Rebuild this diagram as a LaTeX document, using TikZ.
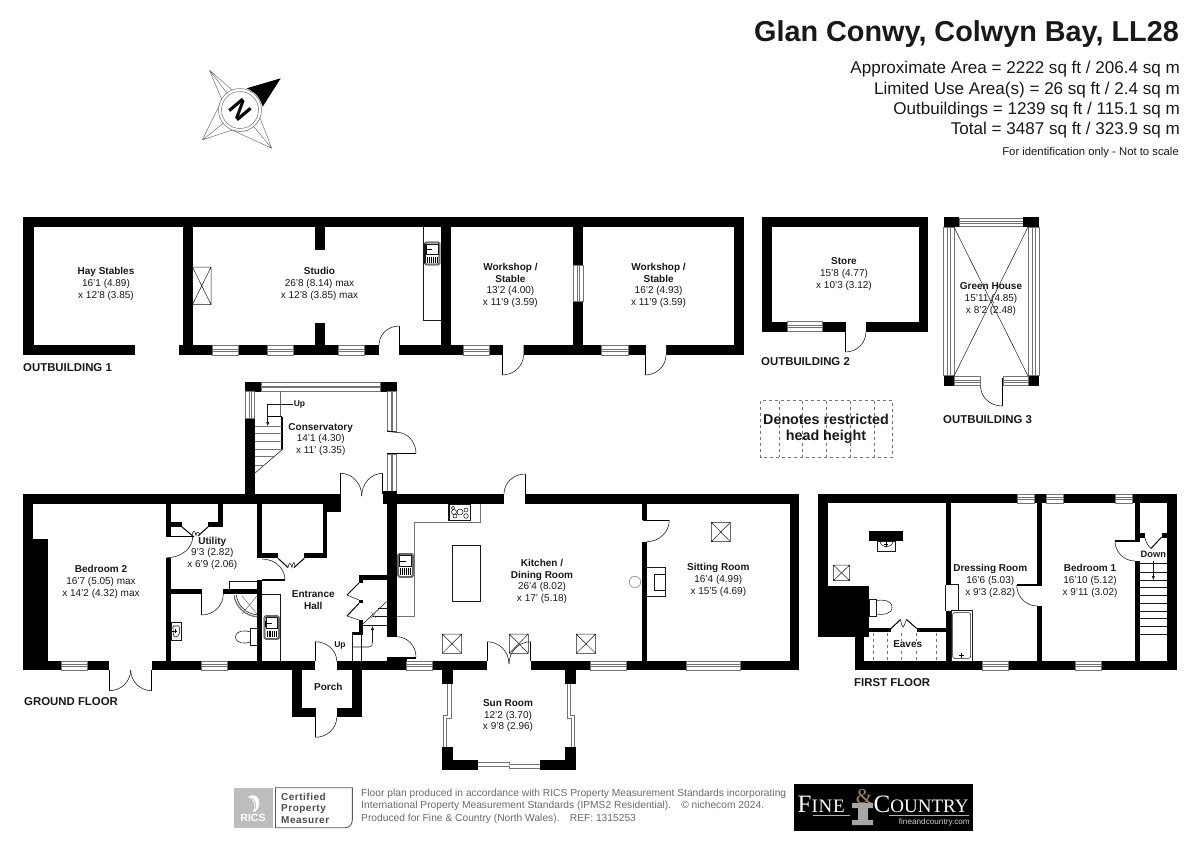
\documentclass[tikz,border=0pt]{standalone}
\usepackage{fontspec}
\setmainfont{Liberation Sans}
\newfontfamily\logoserif{Liberation Serif}
\usetikzlibrary{calc,arrows.meta}
\definecolor{ink}{gray}{0.1}
\definecolor{wgrey}{gray}{0.45}
\tikzset{
  x=1pt,y=-1pt,
  room/.style={align=center,inner sep=0pt,font=\fontsize{10}{11.7}\selectfont,text=ink},
  lab/.style={anchor=west,inner sep=0pt,font=\fontsize{11.4}{13}\selectfont\bfseries,text=ink},
  thin1/.style={draw=ink,line width=0.55pt},
  grey1/.style={draw=wgrey,line width=0.5pt},
  leaf/.style={draw=black,line width=1pt},
  info/.style={anchor=east,inner sep=0pt,font=\fontsize{17.05}{20}\selectfont,text=ink},
}
\newcommand\W[4]{\fill[black] (#1,#2) rectangle (#3,#4);}
% horizontal window
\newcommand\WH[4]{\fill[white] (#1,#2) rectangle (#3,#4);
 \draw[grey1] (#1,#2) rectangle (#3,#4);
 \draw[grey1] (#1,{#2+0.4*(#4-#2)}) -- (#3,{#2+0.4*(#4-#2)}) (#1,{#2+0.6*(#4-#2)}) -- (#3,{#2+0.6*(#4-#2)});}
% vertical window
\newcommand\WV[4]{\fill[white] (#1,#2) rectangle (#3,#4);
 \draw[grey1] (#1,#2) rectangle (#3,#4);
 \draw[grey1] ({#1+0.4*(#3-#1)},#2) -- ({#1+0.4*(#3-#1)},#4) ({#1+0.6*(#3-#1)},#2) -- ({#1+0.6*(#3-#1)},#4);}
% door arc p1, corner, p2
\newcommand\Q[6]{\draw[thin1] (#1,#2) .. controls ($(#1,#2)!.552!(#3,#4)$) and ($(#5,#6)!.552!(#3,#4)$) .. (#5,#6);}
% skylight
\newcommand\SK[4]{\draw[grey1,draw=ink] (#1,#2) rectangle (#3,#4) (#1,#2) -- (#3,#4) (#1,#4) -- (#3,#2);}
% sink
\newcommand\SINK[4]{\draw[thin1,rounded corners=1.5pt] (#1,#2) rectangle (#3,#4);
 \draw[thin1,rounded corners=1pt] ({#1+1},{#2+1}) rectangle ({#3-1},{#4-1});
 \draw[thin1] ({#1+2},{#2+2}) rectangle ({#3-2},{(#2+#4)/2+1});
 \foreach \k in {0,...,5}{\draw[black,line width=0.5pt] ({#1+3+\k*(#3-#1-6)/5},{(#2+#4)/2+3}) -- ({#1+3+\k*(#3-#1-6)/5},{#4-2.5});}
 \draw[black,line width=0.8pt] ({#1+1.5},{(#2+#4)/2-4}) -- ({(#1+#3)/2},{(#2+#4)/2-4}) ({#1+1.5},{(#2+#4)/2-7}) -- ({#1+1.5},{(#2+#4)/2-1});}
\begin{document}
\begin{tikzpicture}
\useasboundingbox (0,0) rectangle (1200,849);
\fill[white] (0,0) rectangle (1200,849);
%---------- header
\node[anchor=east,inner sep=0pt,font=\fontsize{28.8}{32}\selectfont\bfseries,text=ink] (title) at (1179,34.5) {Glan Conwy, Colwyn Bay, LL28};
\node[info] (i1) at (1180,69.5) {Approximate Area = 2222 sq ft / 206.4 sq m};
\node[info] (i2) at (1180,90) {Limited Use Area(s) = 26 sq ft / 2.4 sq m};
\node[info] (i3) at (1180,110.5) {Outbuildings = 1239 sq ft / 115.1 sq m};
\node[info] (i4) at (1180,130.5) {Total = 3487 sq ft / 323.9 sq m};
\node[anchor=east,inner sep=0pt,font=\fontsize{11.3}{13}\selectfont,text=ink] (i5) at (1179,153) {For identification only - Not to scale};
%---------- compass
\draw[wgrey,line width=0.5pt] (209.3,70) -- (232,90) -- (258,92) (209.3,70) -- (222,100) -- (220,118)
 (202.3,140) -- (222,100) (202.3,140) -- (240,110) (202.3,140) -- (232,130) -- (248,131)
 (271.7,148.3) -- (232,130) (271.7,148.3) -- (260,118) -- (258,110) (209.3,70) -- (240,110) (271.7,148.3) -- (240,110);
\fill[white] (240,110) circle (21);
\draw[wgrey,line width=0.5pt] (240,110) circle (21.5) (240,110) circle (18.5);
\fill[black] (246.7,88.3) -- (280.7,78.3) -- (262.7,106.7) .. controls (260,97) and (255,92) .. cycle;
\node[rotate=-50,font=\fontsize{26}{26}\selectfont\bfseries,inner sep=0pt] (north) at (240,110) {N};
%---------- outbuilding 1
\W{23.3}{217}{743.5}{227}
\W{23.3}{217}{33.5}{355}
\W{23.3}{345}{135}{355}
\W{182.5}{217}{192.5}{355}
\W{179}{345}{379}{355}
\W{315}{227}{325}{250}
\W{315}{323}{325}{345}
\W{399.5}{345}{743.5}{355}
\W{441}{217}{451}{355}
\W{573}{217}{583}{355}
\W{734}{217}{743.5}{355}
\WH{212}{345}{238}{355}\WH{267}{345}{293.5}{355}\WH{338}{345}{364}{355}
\WH{463.5}{345}{489.6}{355}\WH{601.4}{345}{628}{355}
\WV{573}{265}{583}{301}
\fill[white] (502,345) rectangle (523.5,355) (645,345) rectangle (666,355);
\draw[leaf] (399,326) -- (399,355) (502,345) -- (502,375) (645,345) -- (645,375);
\Q{399}{326}{379}{326}{379}{345}
\Q{502}{375}{523.5}{375}{523.5}{355}
\Q{645}{375}{666}{375}{666}{355}
\SK{192.5}{267}{211}{304.5}
\draw[thin1] (423,227) -- (423,320) -- (441,320);
\SINK{424.5}{242}{440}{265}
\node[room] (hay) at (106,284) {\textbf{Hay Stables}\\16'1 (4.89)\\x 12'8 (3.85)};
\node[room] (studio) at (319.5,284) {\textbf{Studio}\\26'8 (8.14) max\\x 12'8 (3.85) max};
\node[room] (ws1) at (510.4,285.5) {\textbf{Workshop /}\\\textbf{Stable}\\13'2 (4.00)\\x 11'9 (3.59)};
\node[room] (ws2) at (658.6,285.5) {\textbf{Workshop /}\\\textbf{Stable}\\16'2 (4.93)\\x 11'9 (3.59)};
\node[lab] (ob1) at (23,367.5) {OUTBUILDING 1};
%---------- outbuilding 2
\W{762}{217}{928.4}{227}\W{762}{217}{772}{331.7}\W{918.6}{217}{928.4}{331.7}\W{762}{321.7}{845.5}{331.7}\W{866}{321.7}{928.4}{331.7}
\WH{787.5}{321.7}{822.6}{331.7}
\draw[leaf] (845.5,321.7) -- (845.5,352);
\Q{845.5}{352}{866}{352}{866}{331.7}
\node[room] (store) at (844,274) {\textbf{Store}\\15'8 (4.77)\\x 10'3 (3.12)};
\node[lab] (ob2) at (761,361.5) {OUTBUILDING 2};
%---------- outbuilding 3
\WH{959.4}{218}{1023}{226.5}
\WV{943.5}{227}{954}{375.7}\WV{1028.5}{227}{1039}{375.7}
\W{943.5}{217.3}{959.4}{227}\W{1023}{217.3}{1039}{227}
\W{943.5}{375.7}{954.5}{386}\W{1028}{375.7}{1039}{386}
\WH{954.5}{376.5}{980}{385.5}\WH{1003.5}{376.5}{1028}{385.5}
\draw[grey1,draw=ink] (954,227) -- (1028,376) (1028,227) -- (954,376);
\draw[leaf] (1002,378) -- (1002,406);
\Q{1002}{406}{980.5}{406}{980.5}{386}
\node[room] (green) at (991,299) {\textbf{Green House}\\15'11 (4.85)\\x 8'2 (2.48)};
\node[lab] (ob3) at (943,419.5) {OUTBUILDING 3};
%---------- restricted key
\draw[wgrey,dashed,line width=0.5pt] (760.6,400.7) rectangle (892.5,457.3);
\foreach \xx in {779,802.7,826.7,850.4,874}{\draw[wgrey,dashed,line width=0.5pt] (\xx,400.7) -- (\xx,457.3);}
\node[align=center,inner sep=0pt,font=\fontsize{14.3}{16}\selectfont\bfseries,text=ink] (key) at (826,429) {Denotes restricted\\head height};
%---------- conservatory
\W{245}{418}{255}{494}
\W{245}{381.7}{261}{391.7}\W{380}{381.7}{396.7}{391.7}
\WH{261}{382.5}{380}{391}
\WV{245.5}{391.7}{254.5}{418}
\WV{387}{391.7}{396.5}{431}
\WV{387}{454}{396.5}{491}
\W{382.7}{490.5}{396.7}{494}
\draw[leaf] (387,431) -- (396.7,432.3);
\draw[leaf,line width=1.4pt] (387,453.3) -- (416,453.3);
\Q{416}{453.3}{416}{432.3}{396.7}{432.3}
\draw[leaf] (340.7,473.3) -- (340.7,494) (382.7,473.3) -- (382.7,494);
\Q{340.7}{473.3}{361.7}{473.3}{361.7}{496}
\Q{382.7}{473.3}{361.7}{473.3}{361.7}{496}
\draw[black,line width=2pt] (282,416.7) -- (282,449);
\draw[black,line width=1pt] (267.7,416.7) -- (282,416.7);
\draw[thin1] (280.7,391.7) -- (280.7,416.7) (283,449) -- (255,473);
\foreach \yy/\xe in {426/282,433.3/282,441/282,449/282,456.5/274,465.5/264}{\draw[thin1,draw=wgrey] (255,\yy) -- (\xe,\yy);}
\draw[thin1,-{Latex[length=4pt,width=3.5pt]}] (293,404) -- (267.7,404) -- (267.7,426);
\node[anchor=center,inner sep=0pt,font=\fontsize{8.5}{10}\selectfont\bfseries,text=ink] (upc) at (299.5,404) {Up};
\node[room] (cons) at (320.7,439.5) {\textbf{Conservatory}\\14'1 (4.30)\\x 11' (3.35)};
%---------- ground floor shell
\W{23.3}{494}{340.7}{503.5}
\W{383}{494}{504}{503.5}
\W{525}{494}{799.3}{503.5}
\W{23.3}{494}{33.3}{670}
\W{33.3}{539}{47.7}{661}
\W{790}{494}{799.3}{670}
\W{23.3}{661}{109.3}{670}
\W{151.7}{661}{315}{670}
\W{336.7}{661}{487.3}{670}
\W{530.7}{661}{799.3}{670}
\W{386.7}{494}{396.7}{636.7}
\W{386.7}{658}{406.7}{661}
\WH{61.7}{661}{87.7}{670}\WH{201}{661}{227}{670}\WH{406.7}{661}{432.3}{670}\WH{590.7}{661}{626.7}{670}\WH{686.7}{661}{740.7}{670}
\draw[leaf] (109.3,670) -- (109.3,690.7) (151.7,670) -- (151.7,690.7);
\Q{109.3}{690.7}{130.7}{690.7}{130.7}{670}
\Q{151.7}{690.7}{130.7}{690.7}{130.7}{670}
% interior walls
\W{166}{503.5}{170.7}{536.7}
\W{166}{557.7}{170.7}{661}
\W{170.7}{522.3}{181.7}{526.7}
\W{208.3}{522.3}{223.3}{526.7}
\W{218.3}{503.5}{223.3}{526.7}
\draw[leaf,line width=1.4pt] (166,536.7) -- (192.7,536.7);
\Q{192.7}{536.7}{192.7}{557.7}{166.7}{557.7}
\draw[leaf] (181.7,526.7) -- (194,537) (208.3,526.7) -- (198,536);
\draw[thin1] (192,535) .. controls (193,530) and (195,530) .. (196,535.5) .. controls (197,532) and (197,531) .. (200,534);
\W{170.7}{589}{201.7}{594.3}
\W{223.3}{589}{262}{594.3}
\draw[leaf] (201.7,594) -- (201.7,615);
\Q{201.7}{615}{223.3}{615}{223.3}{594}
\W{257.3}{503.5}{262.3}{558.3}
\W{257.3}{580}{262.3}{661}
\W{262}{553.3}{278}{558.3}
\W{304.3}{553.3}{327.3}{558.3}
\W{322.7}{503.5}{327.3}{558.3}
\W{323}{503.5}{340.7}{512}
\draw[leaf] (278,558.3) -- (288,567.5) (304.3,558.3) -- (294,567.5);
\draw[thin1] (288,567.5) .. controls (289,563) and (290,561) .. (292,567.5) .. controls (293,561) and (295,561) .. (295,567);
\draw[leaf,line width=1.2pt] (262,580) -- (285,580);
\Q{285}{580}{285}{559}{262}{559}
\draw[thin1] (229.3,589) -- (229.3,581) -- (257.3,581);
% shower
\draw[wgrey,line width=1.3pt] (234.3,595) .. controls (234.5,606) and (246,616.5) .. (257.3,616.7);
\draw[black,line width=0.5pt] (236.5,595) .. controls (236.7,605) and (247,614.5) .. (257.3,614.7);
\draw[grey1] (242,596) -- (257,614) (257,596) -- (242,614);
\draw[thin1] (262.3,594) -- (280.7,594) -- (280.7,661);
\SINK{264}{615.7}{279.3}{639.3}
% toilet
\draw[thin1] (250.7,628.3) rectangle (257.3,645);
\draw[thin1] (250.7,632) .. controls (245,630) and (236,630) .. (235.5,637) .. controls (236,644) and (245,644) .. (250.7,642);
% basin
\draw[thin1] (171,622.3) rectangle (181.7,640);
\draw[thin1] (173,626) -- (179,626) .. controls (181,632) and (179,637) .. (175,637) .. controls (173,637) and (173,630) .. (173,626);
\draw[black,line width=0.8pt] (172,631) -- (177,631) (175,628.5) -- (175,633);
% cupboard east of hall
\W{359}{575}{386.7}{580}
\W{359}{575}{363.3}{583}
\W{359}{600}{363.3}{603.3}
\W{359}{620}{363.3}{635}
\W{351.7}{632}{363.3}{635}
\draw[leaf] (359,583) -- (347,595);
\draw[thin1] (347,595) -- (359,600);
\draw[leaf] (359,603.3) -- (347,616);
\draw[thin1] (347,616) -- (359,620);
% hall stairs
\draw[thin1] (352.3,632) -- (352.3,661) (361.7,632) -- (361.7,661) (361.7,625) -- (386.7,625) (371.7,616) -- (386.7,616) (378,608) -- (386.7,608);
\draw[thin1] (361.7,625) -- (386.7,601.5);
\draw[grey1] (371,612) -- (376,618) (376,612) -- (371,618);
\draw[thin1,-{Latex[length=4pt,width=3.5pt]}] (352.3,647) -- (369,647) .. controls (372,647) and (372.5,645) .. (372.5,642) -- (372.5,626);
\node[inner sep=0pt,font=\fontsize{8.5}{10}\selectfont\bfseries,text=ink] (uph) at (340,645.7) {Up};
% door to front kitchen
\draw[leaf,line width=1.4pt] (387,658) -- (416,658);
\Q{416}{657}{416}{636.7}{396.7}{636.7}
\node[room] (bed2) at (101,582) {\textbf{Bedroom 2}\\16'7 (5.05) max\\x 14'2 (4.32) max};
\node[room] (util) at (212.3,553.3) {\textbf{Utility}\\9'3 (2.82)\\x 6'9 (2.06)};
\node[room] (hall) at (313.3,600) {\textbf{Entrance}\\\textbf{Hall}};
\node[lab] (gf) at (24,701.5) {GROUND FLOOR};
%---------- porch
\W{291.7}{670}{301.7}{717.3}
\W{352.3}{670}{361.7}{717.3}
\W{301.7}{708}{315.5}{717.3}
\W{336.7}{708}{352.3}{717.3}
\draw[leaf] (315,661) -- (315,641.7);
\Q{315}{641.7}{336.7}{641.7}{336.7}{661}
\draw[leaf] (315.3,710) -- (315.3,737.3);
\Q{315.3}{737.3}{336.7}{737.3}{336.7}{717.3}
\node[room] (porch) at (328.3,686.7) {\textbf{Porch}};
%---------- kitchen fittings
\draw[thin1,draw=wgrey] (480.7,503.5) -- (480.7,522.3) -- (414.7,522.3) -- (414.7,616) -- (396.7,616);
\draw[thin1,fill=white] (448.7,504) rectangle (470.7,520.7);
\foreach \cx/\cy/\cr in {454/512/2.5,460/512/3,466/510/2,455/516/2,466/516/2.3,453/508/1.8}{\draw[thin1] (\cx,\cy) circle (\cr);}
\fill[black] (448.7,504) rectangle (449.7,520.7);
\SINK{397.7}{553.3}{413.3}{577.3}
\draw[thin1] (452.3,545.3) rectangle (480.7,601.7);
\SK{442.3}{634}{461.7}{653.3}\SK{509.3}{634}{528.3}{653.3}\SK{576.3}{634}{595.7}{653.3}\SK{711.3}{522.3}{730.3}{541.7}
\draw[grey1] (635,582) circle (5.7);
\W{641.7}{503.5}{646.7}{520}
\W{641.7}{541.7}{646.7}{661}
\draw[leaf,line width=1.3pt] (643,520.3) -- (669.3,520.3);
\Q{669.3}{520}{669.3}{541.7}{646.7}{541.7}
\draw[thin1] (646.7,567.7) -- (665.7,567.7) -- (665.7,596.7) -- (646.7,596.7) (654.3,574) rectangle (665.7,590);
\draw[leaf] (487.3,641.7) -- (487.3,661) (530.7,641.7) -- (530.7,661);
\Q{487.3}{641.7}{509}{641.7}{509}{664}
\Q{530.7}{641.7}{509}{641.7}{509}{664}
\draw[leaf] (525,474) -- (525,494);
\Q{525}{474}{504}{474}{504}{494}
\node[room] (kit) at (542,581.3) {\textbf{Kitchen /}\\\textbf{Dining Room}\\26'4 (8.02)\\x 17' (5.18)};
\node[room] (sit) at (718.3,580) {\textbf{Sitting Room}\\16'4 (4.99)\\x 15'5 (4.69)};
%---------- sun room
\W{442.3}{670}{452.7}{684.3}\W{565.3}{670}{575.7}{684.3}
\W{442.3}{746.7}{452.7}{770}\W{565.3}{746.7}{575.7}{770}
\W{452.7}{760}{478.3}{770}\W{540}{760}{565.3}{770}
\draw[grey1] (447.7,684.3) -- (447.7,715) -- (443.3,715) -- (443.3,746.7) (451.3,684.3) -- (451.3,718) -- (446.7,718) -- (446.7,746.7);
\draw[grey1] (570.3,684.3) -- (570.3,715) -- (574.3,715) -- (574.3,746.7) (567.3,684.3) -- (567.3,718) -- (571,718) -- (571,746.7);
\draw[grey1] (478.3,762.7) -- (509.3,762.7) -- (509.3,764) -- (540,764) (478.3,766) -- (509.3,766) -- (509.3,768.3) -- (540,768.3);
\node[room] (sun) at (508,715.7) {\textbf{Sun Room}\\12'2 (3.70)\\x 9'8 (2.96)};
%---------- first floor
\W{818}{494}{1176.7}{503.3}
\W{818}{494}{827.7}{636.7}
\W{818}{585.7}{869.3}{636.7}
\W{855}{636.7}{864.3}{670}
\W{855}{661}{1176.7}{670}
\W{1166.7}{494}{1176.7}{670}
\WH{1017.3}{494}{1034}{503.3}\WH{1046.7}{494}{1063.3}{503.3}\WH{1115.3}{494}{1132}{503.3}
\WH{982}{661}{1008}{670}\WH{1075.3}{661}{1101}{670}
\W{864.3}{628.3}{891}{632.3}\W{916.7}{628.3}{945.7}{632.3}
\W{945.7}{503.3}{951}{585}\W{945.7}{610.7}{951}{661}
\draw[thin1] (951,584.3) -- (958.3,584.3) -- (958.3,610.7);
\draw[thin1] (945.7,585) -- (945.7,610.7);
\draw[thin1] (951,610.7) rectangle (972,661);
\draw[thin1,rounded corners=2pt] (952.7,612.7) rectangle (970.7,658.3);
\draw[black,line width=0.7pt] (959,655) -- (964,655) (961.5,653) -- (961.5,658);
\W{1037.3}{503.3}{1042.3}{584.3}\W{1037.3}{606}{1042.3}{661}
\draw[leaf,line width=1.4pt] (1016.7,585) -- (1042,585);
\Q{1016.7}{585}{1016.7}{606}{1037.3}{606}
\W{1135}{503.3}{1140}{540}\W{1135}{561}{1140}{661}
\draw[leaf,line width=1.4pt] (1115,541) -- (1140,541);
\Q{1115}{541}{1115}{561}{1135}{561}
\W{1140}{533.3}{1145}{538.3}\W{1161.7}{533.3}{1166.7}{538.3}
\draw[leaf] (1161.7,537) -- (1151,548.5);
\draw[thin1] (1145,538) .. controls (1146,543) and (1148,546) .. (1151,548.5);
\foreach \yy in {563.3,572.3,580,587.3,595.7,603.3,611,618.7,626,634.3}{\draw[thin1] (1140,\yy) -- (1166.7,\yy);}
\draw[thin1,-{Latex[length=4pt,width=3.5pt]}] (1153.3,561) -- (1153.3,580);
\node[inner sep=0pt,font=\fontsize{9.3}{10}\selectfont\bfseries,text=ink] (down) at (1153.3,554) {Down};
\W{869.3}{531}{902.7}{541}
\draw[thin1] (877.7,541) rectangle (895,551.7);
\draw[thin1] (880,541) .. controls (881,549) and (892,549) .. (893,541);
\draw[black,line width=0.7pt] (886,541.5) -- (886,547) (884,544) -- (888,544);
\SK{833.3}{565}{849.7}{580.7}
\draw[thin1] (869.3,599) rectangle (876,616);
\draw[thin1] (876,600.5) .. controls (884,599.5) and (892,600.5) .. (892,607.3) .. controls (892,614) and (884,615) .. (876,614);
% eaves door
\draw[leaf] (891,628.5) -- (900.5,619.5) (916.7,628.5) -- (906.5,619.5);
\draw[thin1] (900.5,619.5) .. controls (901,625) and (903,627) .. (903.5,627) .. controls (904,626) and (905,623) .. (906.5,619.5);
% eaves dashes
\foreach \xx in {873.5,887.5,901.5,916.5,936}{\draw[wgrey,dashed,line width=0.5pt] (\xx,633) -- (\xx,661);}
\node[room] (bed1) at (1090,581) {\textbf{Bedroom 1}\\16'10 (5.12)\\x 9'11 (3.02)};
\node[room] (dress) at (990.3,581) {\textbf{Dressing Room}\\16'6 (5.03)\\x 9'3 (2.82)};
\node[room,fill=white,inner xsep=2pt] (eaves) at (907.7,644.3) {\textbf{Eaves}};
\node[lab] (ff) at (854,682.5) {FIRST FLOOR};
%---------- footer RICS
\fill[gray!52] (233.5,787.7) rectangle (273,827.7);
\draw[gray!70!black,line width=0.9pt] (275.5,787.7) -- (352.3,787.7) -- (352.3,820) .. controls (352.3,825) and (349,827.7) .. (345,827.7) -- (275.5,827.7) -- cycle;
\node[inner sep=0pt,text=white,font=\fontsize{10.5}{11}\selectfont\bfseries] (rics) at (253,817.5) {RICS};
\fill[white] (248,797) .. controls (254,793) and (260,796) .. (259,804) .. controls (259,809) and (256,812) .. (253,812) .. controls (256,806) and (255,800) .. (248,797);
\draw[gray!52,line width=0.7pt] (251,798) .. controls (255,800) and (257,804) .. (255,809);
\node[anchor=west,align=left,inner sep=0pt,text=black!70,font=\fontsize{10}{11.7}\selectfont\bfseries\addfontfeature{LetterSpace=5}] (cert) at (281,808.3) {Certified\\Property\\Measurer};
\node[anchor=west,align=left,inner sep=0pt,text=black!58,font=\fontsize{10.25}{12.6}\selectfont] (note) at (361,806) {Floor plan produced in accordance with RICS Property Measurement Standards incorporating\\International Property Measurement Standards (IPMS2 Residential).\quad © nichecom 2024.\\Produced for Fine \& Country (North Wales).\quad REF:\ 1315253};
%---------- footer Fine & Country
\fill[black] (793.7,784.3) rectangle (972.5,830.7);
\node[inner sep=0pt,text=white,font=\logoserif\fontsize{25}{26}\selectfont,anchor=base west] (fine) at (797.5,812) {F\fontsize{19}{20}\selectfont\addfontfeature{LetterSpace=4}INE};
\node[inner sep=0pt,text=white,font=\logoserif\fontsize{25}{26}\selectfont,anchor=base west] (cnt) at (873.5,812) {C\fontsize{19}{20}\selectfont OUNTRY};
\node[inner sep=0pt,text=gray!70!orange,font=\logoserif\fontsize{21}{22}\selectfont] (amp) at (864,797) {\&};
\fill[gray!70] (852,803) rectangle (873,808) (858,808) rectangle (868,820) (852,820) rectangle (873,825);
\draw[gray!60,line width=0.5pt] (813,815) -- (850,815) (889,815) -- (969,815);
\node[inner sep=0pt,text=white!80!black,font=\fontsize{8.2}{9}\selectfont,anchor=east] (web) at (970,822.5) {fineandcountry.com};
\end{tikzpicture}
\end{document}
